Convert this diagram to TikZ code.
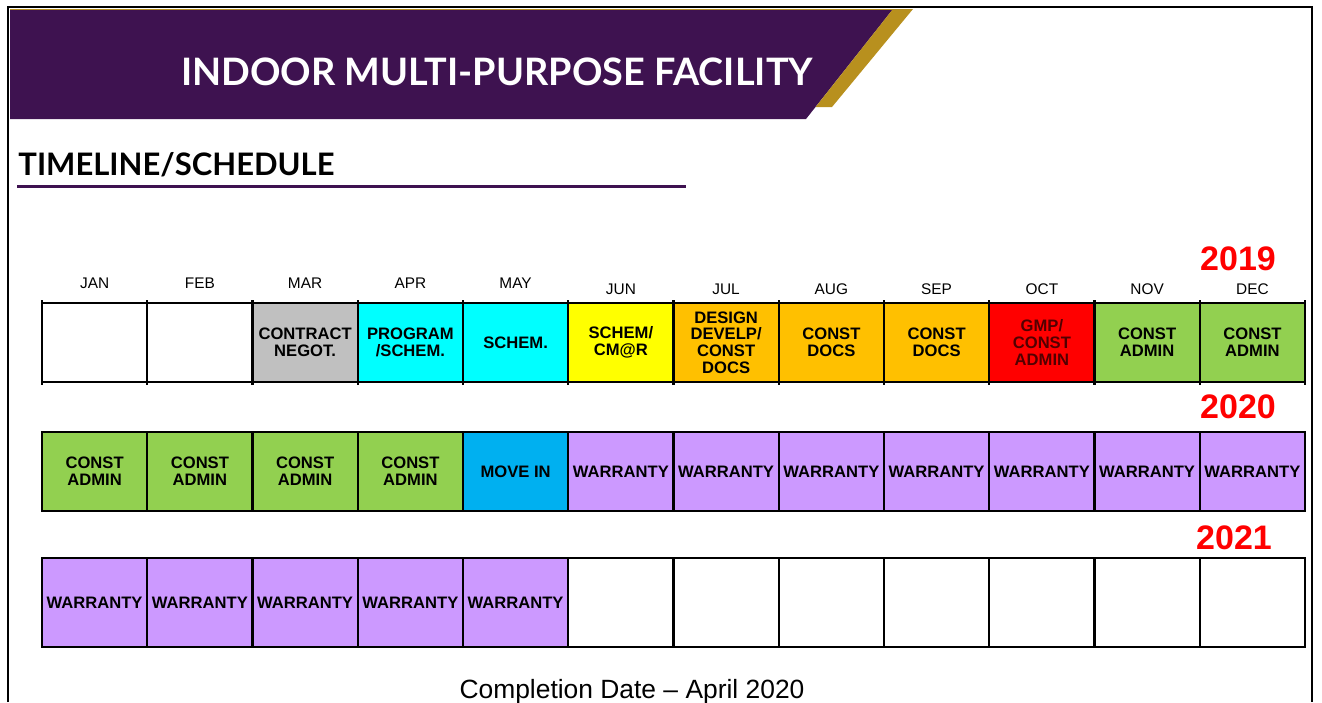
\documentclass[tikz,border=0pt]{standalone}
\usepackage{fontspec}
\setmainfont{Liberation Sans}
\newfontfamily\headfont{Lato}

\definecolor{band}{HTML}{3E1250}
\definecolor{gold}{HTML}{B8901E}
\definecolor{negot}{HTML}{C0C0C0}
\definecolor{schem}{HTML}{00FFFF}
\definecolor{cmar}{HTML}{FFFF00}
\definecolor{docs}{HTML}{FFC000}
\definecolor{gmp}{HTML}{FF0000}
\definecolor{admin}{HTML}{92D050}
\definecolor{movein}{HTML}{00B0F0}
\definecolor{warr}{HTML}{CC99FF}
\definecolor{gmptext}{HTML}{520000}

\begin{document}
\begin{tikzpicture}[x=0.5pt,y=-0.5pt,
  cell/.style={draw=black, line width=1.2pt, minimum width=52.625pt,
    minimum height=39.5pt, inner sep=0pt, outer sep=0pt, align=center,
    font=\bfseries\fontsize{8.3}{8.4}\selectfont},
  tall/.style={minimum height=44.5pt},
  month/.style={anchor=base, font=\fontsize{7.7}{9}\selectfont},
  year/.style={anchor=base, text=red, font=\bfseries\fontsize{17}{20}\selectfont}]
\useasboundingbox (0,0) rectangle (1322,702);

% page frame
\draw[line width=1pt] (8,702) -- (8,7) -- (1312,7) -- (1312,702);

% header band
\fill[band] (10,9) -- (893,9) -- (806,119) -- (10,119) -- cycle;
\fill[gold] (893,9) -- (913,9) -- (832,107) -- (815.6,107) -- cycle;
\draw[gold, line width=0.5pt] (10,9.5) -- (893,9.5);
\node[anchor=base, text=white, font=\headfont\bfseries\fontsize{18.9}{22}\selectfont]
  (title) at (497,85) {INDOOR MULTI-PURPOSE FACILITY};

\node[anchor=base west, inner sep=0pt, font=\headfont\bfseries\fontsize{15.5}{18}\selectfont]
  (sched) at (18,175) {TIMELINE/SCHEDULE};
\draw[band, line width=1.5pt] (17,186) -- (686,186);

% months
\node[month] (jan) at (94.6,288) {JAN};
\node[month] (feb) at (199.9,288) {FEB};
\node[month] (mar) at (305.1,288) {MAR};
\node[month] (apr) at (410.4,288) {APR};
\node[month] (may) at (515.6,288) {MAY};
\node[month] (jun) at (620.9,294) {JUN};
\node[month] (jul) at (726.1,294) {JUL};
\node[month] (aug) at (831.4,294) {AUG};
\node[month] (sep) at (936.6,294) {SEP};
\node[month] (oct) at (1041.9,294) {OCT};
\node[month] (nov) at (1147.1,294) {NOV};
\node[month] (dec) at (1252.4,294) {DEC};

% 2019
\node[year] (y19) at (1238,270) {2019};
\node[cell] (a1) at (94.6,342.5) {};
\node[cell] (a2) at (199.9,342.5) {};
\node[cell, fill=negot] (a3) at (305.1,342.5) {CONTRACT\\NEGOT.};
\node[cell, fill=schem] (a4) at (410.4,342.5) {PROGRAM\\/SCHEM.};
\node[cell, fill=schem] (a5) at (515.6,342.5) {SCHEM.};
\node[cell, fill=cmar] (a6) at (620.9,342.5) {SCHEM/\\CM@R};
\node[cell, fill=docs] (a7) at (726.1,342.5) {DESIGN\\DEVELP/\\CONST\\DOCS};
\node[cell, fill=docs] (a8) at (831.4,342.5) {CONST\\DOCS};
\node[cell, fill=docs] (a9) at (936.6,342.5) {CONST\\DOCS};
\node[cell, fill=gmp, text=gmptext] (a10) at (1041.9,342.5) {GMP/\\CONST\\ADMIN};
\node[cell, fill=admin] (a11) at (1147.1,342.5) {CONST\\ADMIN};
\node[cell, fill=admin] (a12) at (1252.4,342.5) {CONST\\ADMIN};
% little ticks where the 2019 dividers run past the rules
\foreach \c in {a1,a2,a3,a4,a5,a6,a7,a8,a9,a10,a11,a12}
  \draw[line width=1.2pt] ([yshift=1.5pt]\c.north west) -- ([yshift=-1.5pt]\c.south west);
\draw[line width=1.2pt] ([yshift=1.5pt]a12.north east) -- ([yshift=-1.5pt]a12.south east);

% 2020
\node[year] (y20) at (1238,418) {2020};
\node[cell, fill=admin] (b1) at (94.6,471.5) {CONST\\ADMIN};
\node[cell, fill=admin] (b2) at (199.9,471.5) {CONST\\ADMIN};
\node[cell, fill=admin] (b3) at (305.1,471.5) {CONST\\ADMIN};
\node[cell, fill=admin] (b4) at (410.4,471.5) {CONST\\ADMIN};
\node[cell, fill=movein] (b5) at (515.6,471.5) {MOVE IN};
\node[cell, fill=warr] (b6) at (620.9,471.5) {WARRANTY};
\node[cell, fill=warr] (b7) at (726.1,471.5) {WARRANTY};
\node[cell, fill=warr] (b8) at (831.4,471.5) {WARRANTY};
\node[cell, fill=warr] (b9) at (936.6,471.5) {WARRANTY};
\node[cell, fill=warr] (b10) at (1041.9,471.5) {WARRANTY};
\node[cell, fill=warr] (b11) at (1147.1,471.5) {WARRANTY};
\node[cell, fill=warr] (b12) at (1252.4,471.5) {WARRANTY};

% 2021
\node[year] (y21) at (1234,549) {2021};
\node[cell, tall, fill=warr] (c1) at (94.6,602.5) {WARRANTY};
\node[cell, tall, fill=warr] (c2) at (199.9,602.5) {WARRANTY};
\node[cell, tall, fill=warr] (c3) at (305.1,602.5) {WARRANTY};
\node[cell, tall, fill=warr] (c4) at (410.4,602.5) {WARRANTY};
\node[cell, tall, fill=warr] (c5) at (515.6,602.5) {WARRANTY};
\node[cell, tall] (c6) at (620.9,602.5) {};
\node[cell, tall] (c7) at (726.1,602.5) {};
\node[cell, tall] (c8) at (831.4,602.5) {};
\node[cell, tall] (c9) at (936.6,602.5) {};
\node[cell, tall] (c10) at (1041.9,602.5) {};
\node[cell, tall] (c11) at (1147.1,602.5) {};
\node[cell, tall] (c12) at (1252.4,602.5) {};

\node[anchor=base, font=\fontsize{13.2}{15}\selectfont] (done) at (632,698)
  {Completion Date -- April 2020};
\end{tikzpicture}
\end{document}
